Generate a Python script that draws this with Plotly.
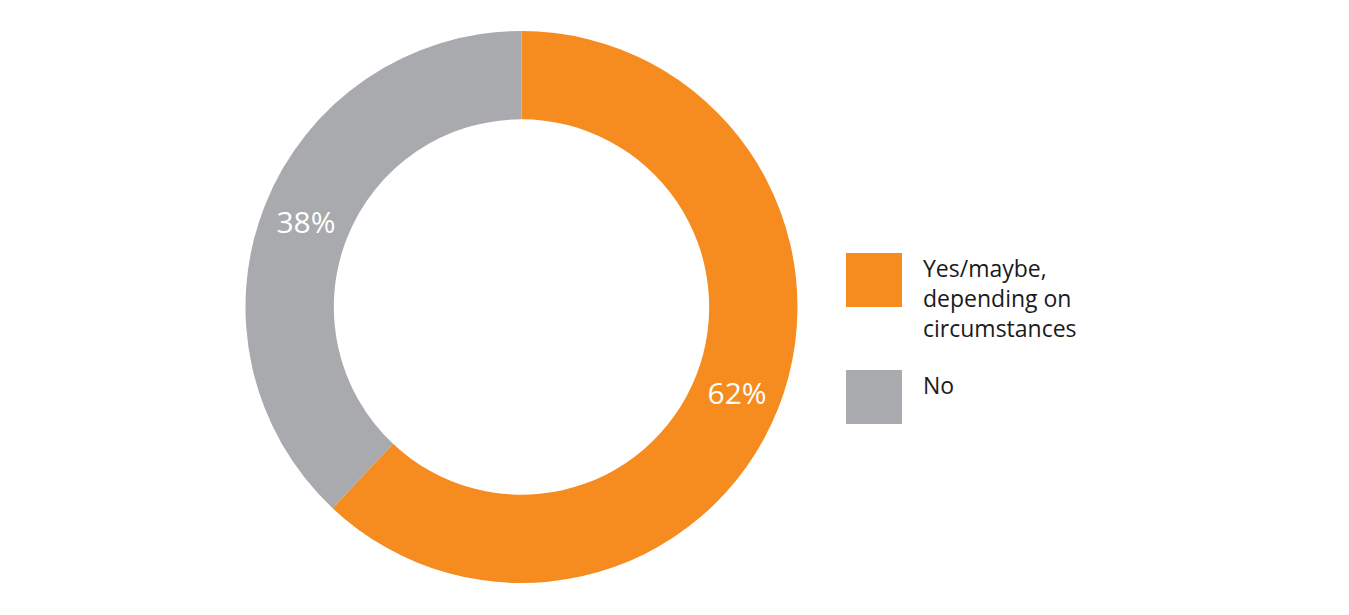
import plotly.graph_objects as go

labels = ["Yes/maybe, depending on circumstances", "No"]
legend_text = ["Yes/maybe,<br>depending on<br>circumstances", "No"]
values = [62, 38]
colors = ["#F68B1F", "#A9AAAD"]

W, H = 1349, 615
off = 8  # default page body margin
cx, cy, r = 521.5 - off, 307 - off, 276

fig = go.Figure(go.Pie(
    labels=labels,
    values=values,
    hole=0.68,
    sort=False,
    direction="clockwise",
    rotation=0,
    marker=dict(colors=colors, line=dict(width=0)),
    texttemplate="%{value}%",
    textposition="inside",
    insidetextorientation="horizontal",
    textfont=dict(color="white", size=30, family="Open Sans"),
    showlegend=False,
    hoverinfo="label+percent",
    domain=dict(x=[(cx - r) / W, (cx + r) / W], y=[(H - cy - r) / H, (H - cy + r) / H]),
))

shapes = []
annotations = []
sq_x0, sq_x1 = 846 - off, 902 - off
sq_tops = [253 - off, 370 - off]
for i, (t, c) in enumerate(zip(legend_text, colors)):
    top = sq_tops[i]
    shapes.append(dict(type="rect", xref="paper", yref="paper",
                       x0=sq_x0 / W, x1=sq_x1 / W,
                       y0=1 - (top + 54) / H, y1=1 - top / H,
                       fillcolor=c, line=dict(width=0)))
    annotations.append(dict(xref="paper", yref="paper", x=(921 - off) / W, y=1 - (top - 3) / H,
                            xanchor="left", yanchor="top", align="left", showarrow=False,
                            text=t, font=dict(size=23, color="#1a1a1a", family="Open Sans")))

fig.update_layout(
    width=W, height=H,
    margin=dict(l=0, r=0, t=0, b=0),
    paper_bgcolor="white", plot_bgcolor="white",
    shapes=shapes, annotations=annotations,
)

fig.write_html("out.html")
